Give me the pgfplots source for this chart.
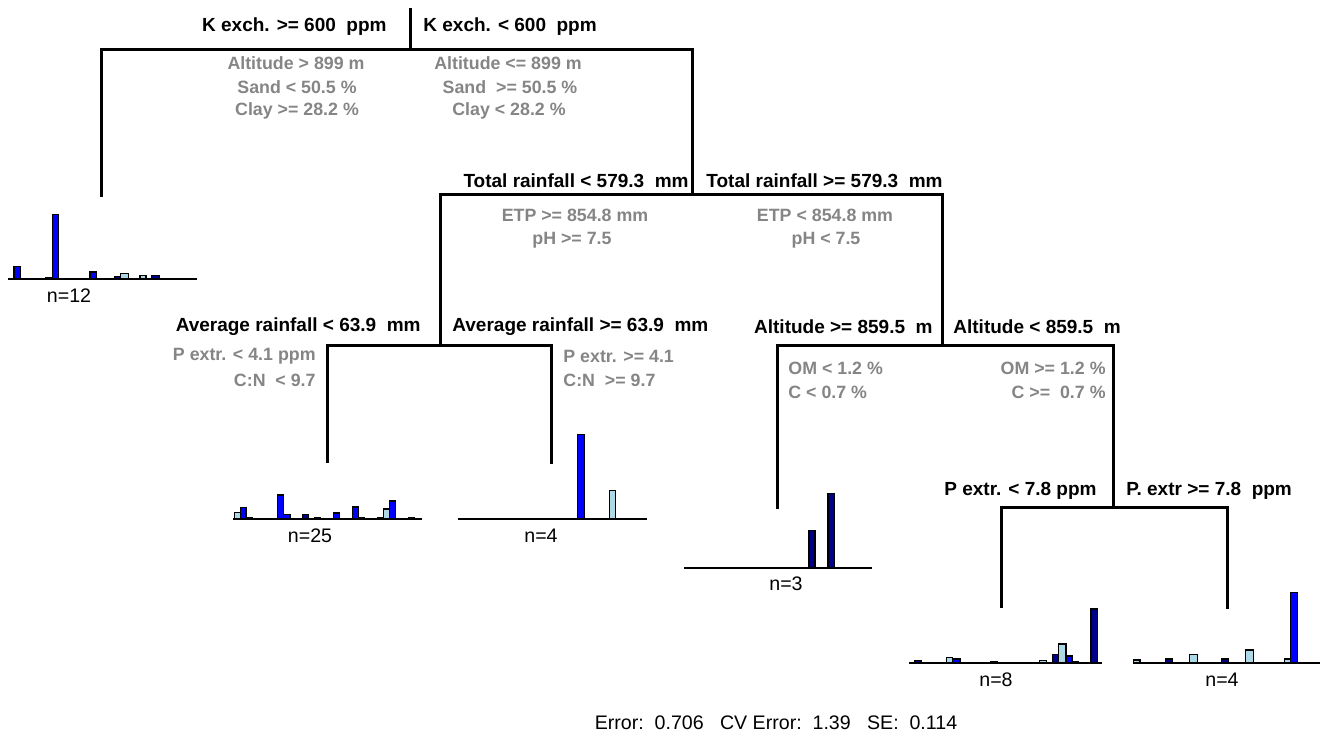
\documentclass[border=0pt]{standalone}
\usepackage{pgfplots}
\pgfplotsset{compat=1.18}
\usepackage{fontspec}
\setmainfont{Liberation Sans}
\definecolor{lblue}{HTML}{ADD8E6}
\definecolor{mblue}{HTML}{0000FF}
\definecolor{dblue}{HTML}{00008B}
\definecolor{splitgray}{HTML}{858585}

% one bar of a leaf histogram: x left, x right, base, top, colour (pixel units, y down)
\newcommand{\leafbar}[5]{\addplot[fill=#5, draw=black, line width=0.75pt] coordinates {(#1,#3)(#1,#4)(#2,#4)(#2,#3)} -- cycle;}

\tikzset{
  split/.style={font=\fontsize{9.5}{11}\selectfont\bfseries, inner sep=0pt},
  cond/.style={font=\fontsize{8.9}{10}\selectfont\bfseries, text=splitgray, inner sep=0pt},
  nlab/.style={font=\fontsize{9.8}{11}\selectfont, inner sep=0pt},
}

\begin{document}
\begin{tikzpicture}
\begin{axis}[
  width=661pt, height=367.5pt, scale only axis,
  xmin=0, xmax=1322, ymin=0, ymax=735, y dir=reverse,
  hide axis, clip=false,
]
\addplot[draw=none] coordinates {(0,0)(1322,735)};

% tree
\addplot[black, line width=1.5pt] coordinates {(410,8)(410,49)};
\addplot[black, line width=1.5pt] coordinates {(101,197)(101,49)(692,49)(692,194)};
\addplot[black, line width=1.5pt] coordinates {(440,345)(440,194)(942,194)(942,345)};
\addplot[black, line width=1.5pt] coordinates {(327,463)(327,345)(551,345)(551,464)};
\addplot[black, line width=1.5pt] coordinates {(777,509)(777,345)(1113,345)(1113,507)};
\addplot[black, line width=1.5pt] coordinates {(1001,608)(1001,507)(1227,507)(1227,609)};

% leaf n=12
\leafbar{14}{20.7}{279.3}{266.7}{mblue}
\leafbar{45.7}{51.7}{279.3}{278}{dblue}
\leafbar{52.3}{58.3}{279.3}{214.3}{mblue}
\leafbar{90}{96.7}{279.3}{272}{mblue}
\leafbar{114.7}{120.7}{279.3}{276.7}{dblue}
\leafbar{120.7}{128.7}{279.3}{273.3}{lblue}
\leafbar{140}{146}{279.3}{275.3}{lblue}
\leafbar{151.7}{159.7}{279.3}{275.3}{dblue}
\addplot[black, line width=1pt] coordinates {(8.3,279.3)(196.7,279.3)};

% leaf n=25
\leafbar{234.5}{240.5}{518.5}{512.3}{lblue}
\leafbar{240.5}{246}{518.5}{507.3}{mblue}
\leafbar{246}{252}{518.5}{517.3}{dblue}
\leafbar{277.5}{283.5}{518.5}{495}{mblue}
\leafbar{283.5}{290}{518.5}{514.3}{mblue}
\leafbar{302.3}{308.3}{518.5}{514.3}{dblue}
\leafbar{314.5}{320.5}{518.5}{517.5}{dblue}
\leafbar{333.3}{339.3}{518.5}{513}{mblue}
\leafbar{352.5}{358.5}{518.5}{507}{mblue}
\leafbar{358.5}{364.5}{518.5}{517.3}{dblue}
\leafbar{377.7}{383.7}{518.5}{517.3}{dblue}
\leafbar{383.7}{389.7}{518.5}{509}{lblue}
\leafbar{389.7}{395.7}{518.5}{501}{mblue}
\leafbar{408.5}{414.5}{518.5}{517.5}{dblue}
\addplot[black, line width=1pt] coordinates {(233,518.5)(422,518.5)};

% leaf n=4 (left)
\leafbar{577.3}{584.3}{519}{434.7}{mblue}
\leafbar{609.3}{615.3}{519}{490.7}{lblue}
\addplot[black, line width=1pt] coordinates {(458.3,519)(646.7,519)};

% leaf n=3
\leafbar{809}{815}{567.7}{530.3}{dblue}
\leafbar{828}{834.3}{567.7}{493.7}{dblue}
\addplot[black, line width=1pt] coordinates {(684,567.7)(871.7,567.7)};

% leaf n=8
\leafbar{915}{921}{662.7}{660.3}{dblue}
\leafbar{946.3}{952.3}{662.7}{657.3}{lblue}
\leafbar{952.3}{960}{662.7}{659}{mblue}
\leafbar{990.3}{997}{662.7}{661.7}{dblue}
\leafbar{1039.3}{1046.7}{662.7}{660.3}{lblue}
\leafbar{1052.7}{1058.3}{662.7}{654.3}{dblue}
\leafbar{1058.3}{1066}{662.7}{644}{lblue}
\leafbar{1066}{1072}{662.7}{656}{mblue}
\leafbar{1072}{1078.3}{662.7}{661.3}{dblue}
\leafbar{1091}{1097.3}{662.7}{609}{dblue}
\addplot[black, line width=1pt] coordinates {(909,662.7)(1102,662.7)};

% leaf n=4 (right)
\leafbar{1133.3}{1140}{663}{660}{lblue}
\leafbar{1165.7}{1172.3}{663}{659}{dblue}
\leafbar{1189.3}{1197.3}{663}{654.3}{lblue}
\leafbar{1221.7}{1228.3}{663}{659}{dblue}
\leafbar{1245.7}{1253.3}{663}{650}{lblue}
\leafbar{1284.3}{1290.3}{663}{659}{lblue}
\leafbar{1290.3}{1297.7}{663}{592.3}{mblue}
\addplot[black, line width=1pt] coordinates {(1132.7,663)(1320,663)};

% split labels
\node[split, anchor=east] at (axis cs:387,27) {K exch. >= 600\ \ ppm};
\node[split, anchor=west] at (axis cs:423,27) {K exch. < 600\ \ ppm};
\node[split, anchor=east] at (axis cs:689,181) {Total rainfall < 579.3\ \ mm};
\node[split, anchor=west] at (axis cs:706,181) {Total rainfall >= 579.3\ \ mm};
\node[split, anchor=east] at (axis cs:421,327) {Average rainfall\ < 63.9\ \ mm};
\node[split, anchor=west] at (axis cs:452,327) {Average rainfall >= 63.9\ \ mm};
\node[split, anchor=east] at (axis cs:933,327) {Altitude\ >=\ 859.5\ \ m};
\node[split, anchor=west] at (axis cs:953,327) {Altitude < 859.5\ \ m};
\node[split, anchor=east] at (axis cs:1097,491) {P extr. < 7.8 ppm};
\node[split, anchor=west] at (axis cs:1126,491) {P. extr >= 7.8\ \ ppm};

% surrogate conditions
\node[cond] at (axis cs:296,63) {Altitude > 899 m};
\node[cond] at (axis cs:297,87) {Sand < 50.5 \%};
\node[cond] at (axis cs:297,111) {Clay >= 28.2 \%};
\node[cond] at (axis cs:508,63) {Altitude\ <= 899 m};
\node[cond] at (axis cs:510,87) {Sand\ \ >= 50.5 \%};
\node[cond] at (axis cs:509,111) {Clay\ < 28.2 \%};
\node[cond] at (axis cs:575,215) {ETP\ >= 854.8 mm};
\node[cond] at (axis cs:572,240) {pH >= 7.5};
\node[cond] at (axis cs:825,215) {ETP\ < 854.8 mm};
\node[cond] at (axis cs:826,240) {pH < 7.5};
\node[cond, anchor=east] at (axis cs:316,356) {P extr. < 4.1 ppm};
\node[cond, anchor=east] at (axis cs:316,380) {C:N\ \ < 9.7};
\node[cond, anchor=west] at (axis cs:563,356) {P extr. >= 4.1};
\node[cond, anchor=west] at (axis cs:563,380) {C:N\ \ >= 9.7};
\node[cond, anchor=west] at (axis cs:788,368) {OM < 1.2 \%};
\node[cond, anchor=west] at (axis cs:788,392) {C < 0.7 \%};
\node[cond, anchor=east] at (axis cs:1106,368) {OM >= 1.2 \%};
\node[cond, anchor=east] at (axis cs:1106,392) {C >=\ \ 0.7 \%};

% leaf sizes
\node[nlab] at (axis cs:69,296) {n=12};
\node[nlab] at (axis cs:310,536) {n=25};
\node[nlab] at (axis cs:541,536) {n=4};
\node[nlab] at (axis cs:786,584) {n=3};
\node[nlab] at (axis cs:996,680) {n=8};
\node[nlab] at (axis cs:1222,680) {n=4};

\node[nlab] at (axis cs:776,723) {Error:\ \ 0.706\ \ \ CV Error:\ \ 1.39\ \ \ SE:\ \ 0.114};
\end{axis}
\end{tikzpicture}
\end{document}
